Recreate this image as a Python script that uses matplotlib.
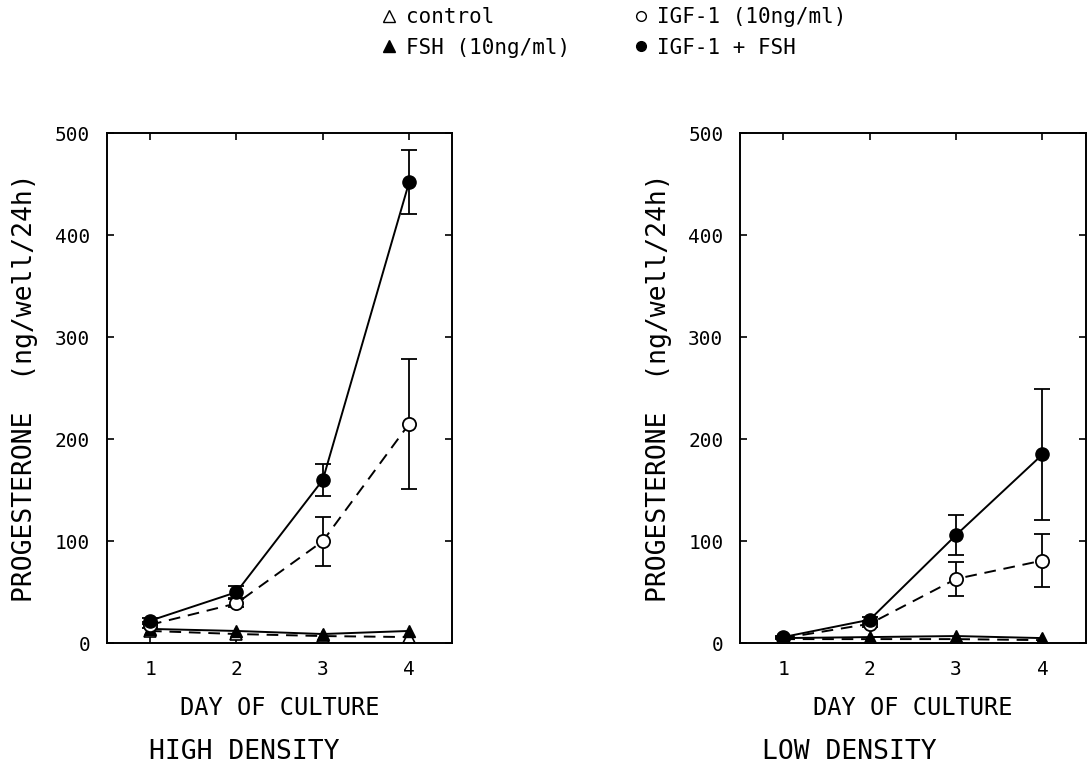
import numpy as np
import matplotlib
matplotlib.use("Agg")
import matplotlib.pyplot as plt
from matplotlib.lines import Line2D

plt.rcParams['font.family'] = ['DejaVu Sans Mono']

days = [1, 2, 3, 4]

# high density
hi_control = [12, 9, 7, 6]
hi_fsh = [14, 12, 9, 12]
hi_igf = [18, 39, 100, 215]
hi_igf_err = [3, 4, 24, 64]
hi_both = [22, 50, 160, 452]
hi_both_err = [3, 6, 16, 31]

# low density
lo_control = [4, 4, 4, 3]
lo_fsh = [5, 6, 7, 5]
lo_igf = [5, 19, 63, 81]
lo_igf_err = [1, 3, 17, 26]
lo_both = [6, 23, 106, 185]
lo_both_err = [1, 3, 20, 64]

legend_labels = ['control', 'FSH (10ng/ml)', 'IGF-1 (10ng/ml)', 'IGF-1 + FSH']
panel_titles = ['HIGH DENSITY', 'LOW DENSITY']


def draw_panel(ax, control, fsh, igf, igf_err, both, both_err):
    dash = (0, (6, 4))
    ax.plot(days, control, color='black', lw=1.4, linestyle=dash,
            marker='^', ms=9, mfc='white', mec='black', mew=1.2)
    ax.plot(days, fsh, color='black', lw=1.4,
            marker='^', ms=9, mfc='black', mec='black')
    ax.errorbar(days, igf, yerr=igf_err, color='black', lw=1.4, linestyle=dash,
                marker='o', ms=9.5, mfc='white', mec='black', mew=1.3,
                capsize=5.5, elinewidth=1.3, capthick=1.3)
    ax.errorbar(days, both, yerr=both_err, color='black', lw=1.4,
                marker='o', ms=9.5, mfc='black', mec='black',
                capsize=5.5, elinewidth=1.3, capthick=1.3)
    ax.set_xlim(0.5, 4.5)
    ax.set_ylim(0, 500)
    ax.set_xticks(days)
    ax.set_yticks([0, 100, 200, 300, 400, 500])
    ax.tick_params(direction='in', top=True, right=True, length=5, width=1.2,
                   labelsize=14, pad=12)
    for s in ax.spines.values():
        s.set_linewidth(1.4)
    ax.set_xlabel('DAY OF CULTURE', fontsize=17, labelpad=12)
    ax.set_ylabel('PROGESTERONE  (ng/well/24h)', fontsize=19, labelpad=12)


fig = plt.figure(figsize=(10.9, 7.74), dpi=100)
ax1 = fig.add_axes([0.098, 0.169, 0.317, 0.659])
ax2 = fig.add_axes([0.679, 0.169, 0.317, 0.659])

draw_panel(ax1, hi_control, hi_fsh, hi_igf, hi_igf_err, hi_both, hi_both_err)
draw_panel(ax2, lo_control, lo_fsh, lo_igf, lo_igf_err, lo_both, lo_both_err)

fig.text(0.224, 0.02, panel_titles[0], fontsize=19, ha='center')
fig.text(0.779, 0.02, panel_titles[1], fontsize=19, ha='center')

handles = [
    Line2D([], [], linestyle='none', marker='^', ms=8, mfc='white', mec='black'),
    Line2D([], [], linestyle='none', marker='^', ms=8, mfc='black', mec='black'),
    Line2D([], [], linestyle='none', marker='o', ms=7, mfc='white', mec='black'),
    Line2D([], [], linestyle='none', marker='o', ms=7, mfc='black', mec='black'),
]
fig.legend(handles, legend_labels, ncol=2, frameon=False, loc='upper left',
           bbox_to_anchor=(0.332, 1.015), fontsize=15, handlelength=0.8,
           handletextpad=0.4, columnspacing=3.0, labelspacing=0.5)

fig.savefig('out.png', dpi=100)
